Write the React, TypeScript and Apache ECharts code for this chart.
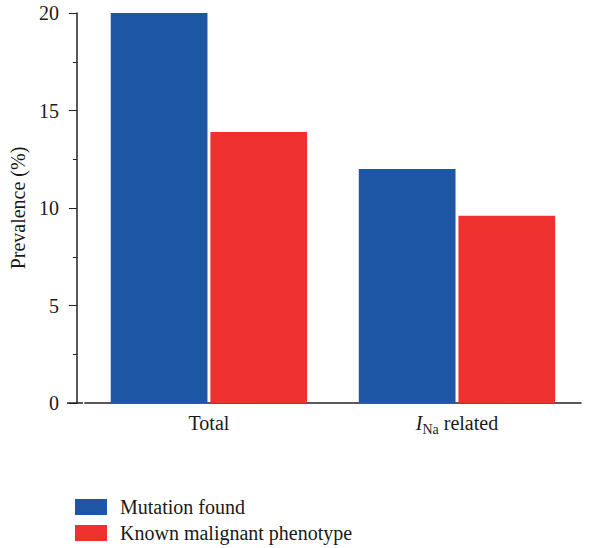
import React, { useEffect, useRef } from "react";
import * as echarts from "echarts";

const categories = ["Total", "INa related"];
const seriesNames = ["Mutation found", "Known malignant phenotype"];
const mutationValues = [20, 12];
const malignantValues = [13.9, 9.6];
const yTicks = [0, 5, 10, 15, 20];

const FONT = "'Liberation Serif', 'Times New Roman', serif";
const TXT = "#1a1a1a";

export default function App() {
  const ref = useRef<HTMLDivElement>(null);
  useEffect(() => {
    document.body.style.margin = "0";
    if (!ref.current) return;
    const chart = echarts.init(ref.current, null, { renderer: "svg" });
    const legendText = { fontFamily: FONT, fontSize: 20, color: TXT, padding: [0, 0, 0, 8] };
    const legendBase = {
      orient: "vertical",
      left: 75,
      padding: 0,
      itemWidth: 32,
      itemHeight: 16,
      icon: "rect",
      textStyle: legendText,
    };
    chart.setOption({
      animation: false,
      textStyle: { fontFamily: FONT, color: TXT },
      grid: { left: 83, top: 13, width: 498, height: 390 },
      legend: [
        { ...legendBase, top: 497, data: [seriesNames[0]] },
        { ...legendBase, top: 523, data: [seriesNames[1]] },
      ],
      xAxis: {
        type: "category",
        data: categories,
        axisLine: { lineStyle: { color: "#222", width: 1.5 } },
        axisTick: { inside: true, length: 3, lineStyle: { color: "#222" } },
        axisLabel: {
          margin: 7,
          fontFamily: FONT,
          fontSize: 20,
          color: TXT,
          formatter: (v: string) =>
            v === "INa related" ? "{i|I}{s|Na}{t| related}" : "{t|" + v + "}",
          rich: {
            i: { fontFamily: FONT, fontSize: 20, fontStyle: "italic", lineHeight: 26, verticalAlign: "middle", color: TXT },
            s: { fontFamily: FONT, fontSize: 14, lineHeight: 14, verticalAlign: "bottom", color: TXT },
            t: { fontFamily: FONT, fontSize: 20, lineHeight: 26, verticalAlign: "middle", color: TXT },
          },
        },
      },
      yAxis: {
        type: "value",
        min: yTicks[0],
        max: yTicks[yTicks.length - 1],
        interval: 5,
        offset: 8,
        name: "Prevalence (%)",
        nameLocation: "middle",
        nameGap: 47,
        nameTextStyle: { fontFamily: FONT, fontSize: 20, color: TXT },
        axisLine: { show: true, lineStyle: { color: "#222", width: 1.5 } },
        axisTick: { show: true, length: 8, lineStyle: { color: "#222" } },
        minorTick: { show: true, splitNumber: 2, length: 4, lineStyle: { color: "#222" } },
        splitLine: { show: false },
        axisLabel: { margin: 18, fontFamily: FONT, fontSize: 20, color: TXT },
      },
      graphic: [
        {
          type: "line",
          shape: { x1: 67, y1: 403, x2: 83, y2: 403 },
          style: { stroke: "#222", lineWidth: 1.5 },
        },
      ],
      series: [
        {
          name: seriesNames[0],
          type: "bar",
          data: mutationValues,
          barWidth: "39%",
          barGap: "3%",
          itemStyle: { color: "#1E56A6" },
        },
        {
          name: seriesNames[1],
          type: "bar",
          data: malignantValues,
          barWidth: "39%",
          itemStyle: { color: "#EE302F" },
        },
      ],
    });
    return () => chart.dispose();
  }, []);
  return <div ref={ref} style={{ width: 592, height: 548 }} />;
}
